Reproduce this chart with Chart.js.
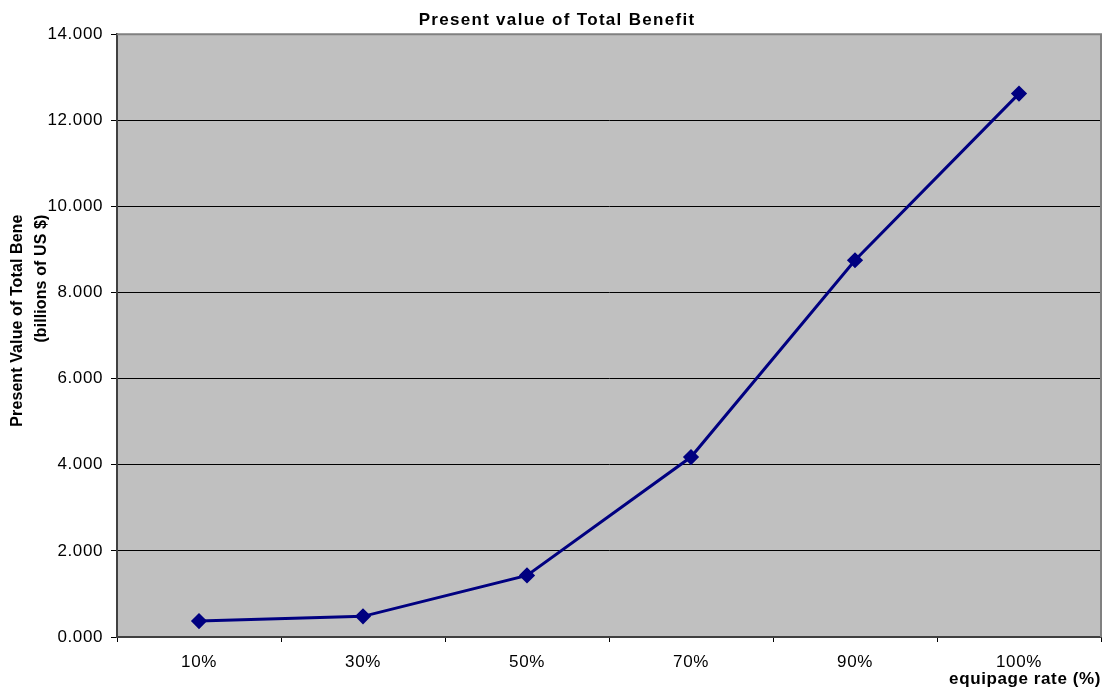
<!DOCTYPE html>
<html>
<head>
<meta charset="utf-8">
<script src="https://cdn.jsdelivr.net/npm/chart.js@4"></script>
<style>
  html, body { margin: 0; padding: 0; background: #fff; }
  #wrap { width: 1110px; height: 694px; }
</style>
</head>
<body>
<div id="wrap"><canvas id="chartBenefit" width="1110" height="694"></canvas></div>
<script>
// equipage rate categories and present value of total benefit (billions of US $)
const rates = ["10%", "30%", "50%", "70%", "90%", "100%"];
const benefit = [0.37, 0.48, 1.43, 4.18, 8.75, 12.62];
const chartTitle = "Present value of Total Benefit";
const yTitleLines = ["Present Value of Total Bene", "(billions of US $)"];

const FONT = "'Liberation Sans', Arial, sans-serif";

// grey plot area, light frame on top and right, and the hand-set titles
const plotFrame = {
  id: "plotFrame",
  beforeDraw(chart) {
    const { ctx, chartArea: a } = chart;
    ctx.save();
    ctx.fillStyle = "#fff";
    ctx.fillRect(0, 0, chart.width, chart.height);
    ctx.fillStyle = "#c0c0c0";
    ctx.fillRect(a.left, a.top, a.right - a.left, a.bottom - a.top);
    ctx.restore();
    // slightly looser text for the axis labels
    ctx.letterSpacing = "0.6px";
  },
  afterDraw(chart) {
    const { ctx, chartArea: a } = chart;
    ctx.save();
    ctx.strokeStyle = "#808080";
    ctx.lineWidth = 2;
    ctx.beginPath();
    ctx.moveTo(a.left, a.top);
    ctx.lineTo(a.right, a.top);
    ctx.lineTo(a.right, a.bottom);
    ctx.stroke();

    ctx.fillStyle = "#000";
    ctx.textAlign = "center";

    // chart title
    ctx.font = "bold 17px " + FONT;
    ctx.letterSpacing = "1.3px";
    ctx.textBaseline = "alphabetic";
    ctx.fillText(chartTitle, chart.width / 2 + 2, 25);

    // y axis title, two rotated lines
    ctx.font = "bold 16px " + FONT;
    ctx.letterSpacing = "0.1px";
    ctx.textBaseline = "middle";
    const mid = (a.top + a.bottom) / 2;
    [[18, mid - 15], [42, mid - 57]].forEach(([x, y], i) => {
      ctx.save();
      ctx.translate(x, y);
      ctx.rotate(-Math.PI / 2);
      ctx.fillText(yTitleLines[i], 0, 0);
      ctx.restore();
    });
    ctx.restore();
    ctx.letterSpacing = "0px";
  }
};

new Chart(document.getElementById("chartBenefit"), {
  type: "line",
  data: {
    labels: rates,
    datasets: [{
      label: chartTitle,
      data: benefit,
      borderColor: "#000080",
      backgroundColor: "#000080",
      borderWidth: 3,
      pointStyle: "rectRot",
      pointRadius: 6,
      pointBackgroundColor: "#000080",
      pointBorderColor: "#000080",
      tension: 0
    }]
  },
  options: {
    responsive: false,
    animation: false,
    layout: { padding: { left: 0, right: 7, top: 0, bottom: 0 } },
    plugins: {
      legend: { display: false },
      tooltip: { enabled: false },
      // keeps the space above the plot; the text itself is drawn by plotFrame
      title: {
        display: true,
        text: chartTitle,
        color: "rgba(0,0,0,0)",
        font: { family: FONT, size: 16, weight: "bold", lineHeight: 1.2 },
        padding: { top: 7, bottom: 8 }
      }
    },
    scales: {
      x: {
        offset: true,
        grid: { offset: true, drawOnChartArea: false, tickLength: 5, tickColor: "#000" },
        border: { color: "#404040", width: 2 },
        ticks: { color: "#000", font: { family: FONT, size: 17 }, padding: 10, maxRotation: 0 },
        title: {
          display: true,
          text: "equipage rate (%)",
          align: "end",
          color: "#000",
          font: { family: FONT, size: 17, weight: "bold" },
          padding: { top: 0, bottom: 4 }
        },
        afterFit(scale) { scale.height = 57; }
      },
      y: {
        min: 0,
        max: 14,
        grid: { color: "#000", lineWidth: 1, tickLength: 6, tickColor: "#000" },
        border: { color: "#404040", width: 2 },
        ticks: {
          stepSize: 2,
          color: "#000",
          font: { family: FONT, size: 17 },
          padding: 8,
          callback: v => v.toFixed(3)
        },
        afterFit(scale) { scale.width = 117; }
      }
    }
  },
  plugins: [plotFrame]
});
</script>
</body>
</html>
